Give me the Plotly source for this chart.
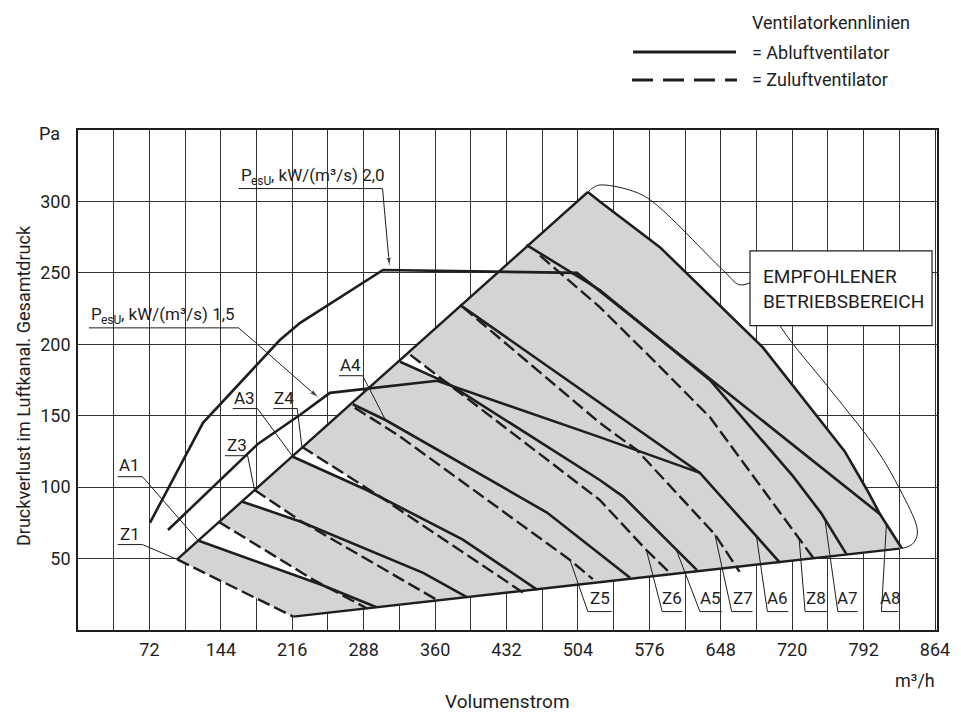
import numpy as np
import plotly.graph_objects as go

FONT = "Roboto, Liberation Sans Narrow, sans-serif"
INK = "#1e1e1e"
SHADE = "#d3d4d6"

# Axis ticks
x_ticks = [72, 144, 216, 288, 360, 432, 504, 576, 648, 720, 792, 864]
y_ticks = [50, 100, 150, 200, 250, 300]

# Recommended operating area: upper-left edge and bottom edge
left_edge = [(100, 49.4), (514, 306.6)]
bottom_edge = [(217, 9.4), (828, 57)]

# Fan characteristic curves (Volumenstrom m3/h, Druck Pa)
Z1 = [(100, 49.4), (217, 9.4)]
A1 = [(121, 62.7), (244, 32), (301, 15.9)]
Z2 = [(142, 75.7), (237, 35.3), (291, 15.2)]
A2 = [(165, 90), (224, 76), (348, 40), (392, 23)]
Z3 = [(178, 98), (224, 76.5), (362, 21)]
A3 = [(216.6, 121.3), (291, 98), (388, 63.3), (462.7, 28.3)]
Z4 = [(225.7, 128.3), (304.4, 93.4), (448.6, 26.2)]
A4 = [(277, 158), (310, 147), (472.8, 82.2), (546.5, 42), (556.5, 36.6)]
Z5 = [(279, 155.6), (324.7, 135.4), (496, 49), (519, 35.6)]
A5 = [(324.7, 187.8), (372, 173), (526, 105), (549.6, 93.4), (624, 41.9)]
Z6 = [(335, 192.6), (372, 173), (526, 91), (573, 56), (596.6, 40)]
A6 = [(385, 227.6), (627, 110), (707.8, 47)]
Z7 = [(388, 226), (526, 145), (563, 126.2), (642, 67), (667, 40.7)]
A7 = [(452, 269.6), (526, 238), (637, 175), (721, 107.5), (749, 82), (775, 52.8)]
Z8 = [(465.8, 262), (526, 226), (577, 191), (637, 149), (741, 50.7)]
A8 = [(514, 306.6), (526, 300), (586.6, 268), (613.6, 249.8), (690.8, 197.5),
      (773, 125), (795.5, 98), (808.6, 81), (830.6, 57)]

# Specific fan power lines
sfp_20 = [(72.5, 75), (126, 145), (203.5, 203), (224, 215), (307.5, 252),
          (503, 250), (808.6, 81)]
sfp_15 = [(90.7, 70), (181, 130), (224, 150.7), (254, 166), (362, 174.5),
          (526, 135), (627, 110)]

# Thin outline around the recommended area
outline_a = [(514, 306.6), (519, 309.5), (526, 311.5), (556, 308), (577, 301),
             (650, 252), (667, 241.6), (677.5, 243)]
outline_b = [(707.7, 213), (717.7, 203), (761, 166), (805.5, 126),
             (828.7, 98.3), (845.6, 72.4), (845.6, 65.4), (840.7, 59.8),
             (830.6, 57)]

solid_curves = [A1, A2, A3, A4, A5, A6, A7, A8]
dashed_curves = [Z1, Z2, Z3, Z4, Z5, Z6, Z7, Z8]
# Unshaded gaps between an exhaust curve and the next supply curve
gap_pairs = [(A1, Z2), (A2, Z3), (A3, Z4), (A5, Z6)]


def xs(c):
    return [p[0] for p in c]


def ys(c):
    return [p[1] for p in c]


def at(c, x):
    return float(np.interp(x, xs(c), ys(c)))


def gap_polygon(lower, upper):
    x0 = lower[0][0]
    grid = np.linspace(upper[0][0], min(lower[-1][0], upper[-1][0]), 400)
    diff = np.interp(grid, xs(upper), ys(upper)) - np.interp(grid, xs(lower), ys(lower))
    xc = grid[np.argmax(diff <= 0)]
    gx = np.linspace(x0, xc, 60)
    ux = np.linspace(xc, upper[0][0], 60)
    px = list(gx) + list(ux)
    py = list(np.interp(gx, xs(lower), ys(lower))) + list(np.interp(ux, xs(upper), ys(upper)))
    return px, py


def text(fig, x, y, s, size, **kw):
    fig.add_annotation(x=x, y=y, text=s, showarrow=False,
                       font=dict(family=FONT, size=size, color=INK), **kw)


fig = go.Figure()

# Shaded operating area
area = left_edge + A8[1:] + bottom_edge[::-1] + Z1[::-1][1:]
fig.add_trace(go.Scatter(x=xs(area), y=ys(area), fill="toself",
                         fillcolor=SHADE, line=dict(width=0),
                         mode="lines", hoverinfo="skip"))
for lower, upper in gap_pairs:
    gx, gy = gap_polygon(lower, upper)
    fig.add_trace(go.Scatter(x=gx, y=gy, fill="toself", fillcolor="white",
                             line=dict(width=0), mode="lines", hoverinfo="skip"))

for c in [left_edge, bottom_edge]:
    fig.add_trace(go.Scatter(x=xs(c), y=ys(c), mode="lines",
                             line=dict(color=INK, width=2.4)))

for c in dashed_curves:
    fig.add_trace(go.Scatter(x=xs(c), y=ys(c), mode="lines",
                             line=dict(color=INK, width=2.4, dash="13px,5px")))
for c in solid_curves + [sfp_20, sfp_15]:
    fig.add_trace(go.Scatter(x=xs(c), y=ys(c), mode="lines",
                             line=dict(color=INK, width=2.6)))

for c in [outline_a, outline_b]:
    fig.add_trace(go.Scatter(x=xs(c), y=ys(c), mode="lines",
                             line=dict(color=INK, width=1, shape="spline")))

# Curve labels: name, text x, text y, underline x0, x1, underline y,
# curve, x on curve, leader from underline end ('l' / 'r')
labels = [
    ("A1", 52, 115.7, 40, 65, 107.3, A1, 121, "r"),
    ("Z1", 52, 67.5, 40, 65, 59.8, Z1, 100, "r"),
    ("Z3", 160, 129.7, 148, 171, 122, Z3, 178, "r"),
    ("A3", 168, 162.6, 156, 181, 155, A3, 216.6, "r"),
    ("Z4", 208, 162.6, 197, 221, 155, Z4, 225.7, "r"),
    ("A4", 275, 185.7, 263, 287, 178, A4, 310, "r"),
    ("Z5", 526, 22.7, 514, 538, 12.9, Z5, 496, "l"),
    ("Z6", 599, 22.7, 589, 609, 12.9, Z6, 573, "l"),
    ("A5", 638, 22.7, 627, 649, 12.9, A5, 603, "l"),
    ("Z7", 670, 22.7, 659, 680, 12.9, Z7, 642, "l"),
    ("A6", 705, 22.7, 695, 716, 12.9, A6, 684, "l"),
    ("Z8", 744, 22.7, 733, 755, 12.9, Z8, 727, "l"),
    ("A7", 776, 22.7, 766, 786, 12.9, A7, 753, "l"),
    ("A8", 819, 22.7, 810, 827, 12.9, A8, 815, "l"),
]

lx, ly = [], []
for name, tx, ty, u0, u1, uy, curve, cx, side in labels:
    start = u1 if side == "r" else u0
    lx += [u0, u1, None, start, cx, None]
    ly += [uy, uy, None, uy, at(curve, cx), None]
    text(fig, tx, ty, name, 17)
fig.add_trace(go.Scatter(x=lx, y=ly, mode="lines",
                         line=dict(color=INK, width=1)))

# Specific fan power labels with leader arrows
sfp_labels = [
    (", kW/(m³/s) 2,0", 162, 307, 309, sfp_20, 314),
    (", kW/(m³/s) 1,5", 11, 162, 211.5, sfp_15, 242),
]
for rest, u0, u1, uy, curve, cx in sfp_labels:
    tip = at(curve, cx) + 3
    fig.add_trace(go.Scatter(x=[u0, u1, cx], y=[uy, uy, tip], mode="lines+markers",
                             line=dict(color=INK, width=1),
                             marker=dict(symbol="arrow", size=[0, 0, 9],
                                         angleref="previous", color=INK)))
    text(fig, u0, uy + 1, "P", 17, xanchor="left", yanchor="bottom")
    text(fig, u0, uy + 1, "esU", 12, xanchor="left", yanchor="bottom",
         xshift=10, yshift=-3)
    text(fig, u0, uy + 1, rest, 17, xanchor="left", yanchor="bottom", xshift=30)

# Boxed note
fig.add_shape(type="rect", x0=677.5, x1=861, y0=213, y1=265.4,
              line=dict(color=INK, width=1.2), fillcolor="white", layer="above")
text(fig, 689, 239, "EMPFOHLENER<br>BETRIEBSBEREICH", 19,
     xanchor="left", yanchor="middle", align="left")

# Legend block
fig.add_shape(type="line", xref="paper", yref="paper",
              x0=(633 - 78) / 859, x1=(736 - 78) / 859,
              y0=(630 - 52) / 500, y1=(630 - 52) / 500,
              line=dict(color=INK, width=3.2))
fig.add_shape(type="line", xref="paper", yref="paper",
              x0=(632 - 78) / 859, x1=(737 - 78) / 859,
              y0=(630 - 80) / 500, y1=(630 - 80) / 500,
              line=dict(color=INK, width=3.2, dash="21px,10px"))
for txt, py in [("Ventilatorkennlinien", 22), ("= Abluftventilator", 52),
                ("= Zuluftventilator", 80)]:
    text(fig, (750 - 78) / 859, (630 - py) / 500, txt, 18, xref="paper",
         yref="paper", xanchor="left", yanchor="middle")

# Axis captions
text(fig, (49 - 78) / 859, (630 - 133) / 500, "Pa", 18, xref="paper",
     yref="paper", xanchor="center", yanchor="middle")
text(fig, 1.0, (630 - 680) / 500, "m³/h", 18, xref="paper", yref="paper",
     xanchor="right", yanchor="middle")
text(fig, 0.5, (630 - 701) / 500, "Volumenstrom", 19, xref="paper",
     yref="paper", xanchor="center", yanchor="middle")
text(fig, (23 - 78) / 859, (630 - 386) / 500,
     "Druckverlust im Luftkanal. Gesamtdruck", 18, xref="paper", yref="paper",
     textangle=-90, xanchor="center", yanchor="middle")

grid_style = dict(showgrid=True, gridcolor="#333333", gridwidth=1.2)
fig.update_xaxes(range=[0, 866], tickvals=x_ticks,
                 minor=dict(tick0=0, dtick=36, **grid_style), **grid_style,
                 zeroline=False, showline=True, linecolor=INK, linewidth=1.6,
                 mirror=True, ticks="", ticklabelstandoff=3,
                 tickfont=dict(family=FONT, size=18, color=INK))
fig.update_yaxes(range=[0, 350], tickvals=y_ticks, **grid_style,
                 zeroline=False, showline=True, linecolor=INK, linewidth=1.6,
                 mirror=True, ticks="", ticklabelstandoff=2,
                 tickfont=dict(family=FONT, size=18, color=INK))

fig.update_layout(width=961, height=722, showlegend=False,
                  margin=dict(l=78, r=24, t=130, b=92),
                  plot_bgcolor="white", paper_bgcolor="white")

fig.write_html("out.html")
